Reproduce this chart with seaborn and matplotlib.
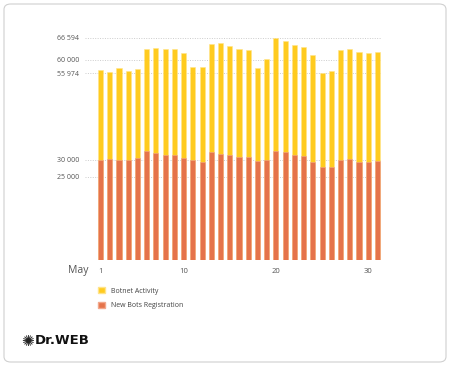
import matplotlib
matplotlib.use("Agg")
import matplotlib.pyplot as plt
from matplotlib.patches import FancyBboxPatch, Patch
import seaborn as sns
import pandas as pd

days = list(range(1, 32))
botnet_activity = [57000, 56200, 57600, 56600, 57300, 63210, 63420, 63210, 63210, 62010,
                   57900, 57700, 64710, 65100, 64200, 63210, 62820, 57600, 60310, 66594,
                   65700, 64500, 63810, 61320, 55974, 56700, 62820, 63300, 62310, 61920,
                   62400]
new_bots = [29900, 30300, 30000, 29900, 30700, 32600, 32100, 31500, 31500, 30500,
            30000, 29300, 32400, 31800, 31400, 30800, 30800, 29800, 30000, 32800,
            32300, 31400, 31100, 29500, 27800, 27800, 29900, 30300, 29300, 29300,
            29700]
y_ticks = [25000, 30000, 55974, 60000, 66594]
x_tick_days = [1, 10, 20, 30]

yellow = "#FFCB1F"
orange = "#E5734A"

df = pd.DataFrame({"day": days, "botnet": botnet_activity, "new": new_bots})

sns.set_style("white")
plt.rcParams["font.family"] = ["Open Sans", "DejaVu Sans"]

fig = plt.figure(figsize=(4.5, 3.66), dpi=100)
ax = fig.add_axes([85 / 450, 1 - 260 / 366, 297 / 450, 230 / 366])

sns.barplot(data=df, x="day", y="botnet", color=yellow, saturation=1, width=0.55,
            edgecolor="#FFE48A", linewidth=0.4, ax=ax, zorder=2)
sns.barplot(data=df, x="day", y="new", color=orange, saturation=1, width=0.55,
            edgecolor="#F2A88C", linewidth=0.4, ax=ax, zorder=3)

ax.set_xlim(-1.68, 30.49)
ax.set_ylim(0, 68900)

ax.set_yticks(y_ticks)
ax.set_yticklabels([f"{v:,}".replace(",", " ") for v in y_ticks])
for v in y_ticks:
    ax.axhline(v, color="#cccccc", lw=0.7, ls=(0, (1, 1.5)), zorder=1)

ax.set_xticks([d - 1 for d in x_tick_days])
ax.set_xticklabels([str(d) for d in x_tick_days])
ax.tick_params(axis="y", length=0, pad=4, labelsize=5, labelcolor="#555555")
ax.tick_params(axis="x", length=0, pad=6, labelsize=5.5, labelcolor="#555555")
ax.set_xlabel("")
ax.set_ylabel("")
sns.despine(ax=ax, left=True, bottom=True)

fig.text(78 / 450, 1 - 270 / 366, "May", ha="center", va="center",
         fontsize=7.5, color="#555555")

handles = [Patch(facecolor=yellow, edgecolor="#FFE48A", label="Botnet Activity"),
           Patch(facecolor=orange, edgecolor="#F2A88C", label="New Bots Registration")]
fig.legend(handles=handles, loc="upper left", bbox_to_anchor=(92 / 450, 1 - 281 / 366),
           frameon=False, fontsize=5, handlelength=1.0, handleheight=1.0,
           handletextpad=0.9, labelspacing=1.0, labelcolor="#444444")

# logo
fig.text(27 / 450, 1 - 341 / 366, "\u273A", ha="center", va="center",
         fontsize=11, color="#222222", family=["DejaVu Sans"])
fig.text(35 / 450, 1 - 341 / 366, "Dr.WEB", ha="left", va="center",
         fontsize=9.5, fontweight="bold", color="#111111", family=["DejaVu Sans"])

# outer rounded frame
frame = FancyBboxPatch((4 / 450, 4 / 366), 442 / 450, 358 / 366,
                       boxstyle="round,pad=0,rounding_size=0.015",
                       transform=fig.transFigure, facecolor="none",
                       edgecolor="#d0d0d0", linewidth=0.8)
fig.patches.append(frame)

fig.savefig("out.png", dpi=100)
